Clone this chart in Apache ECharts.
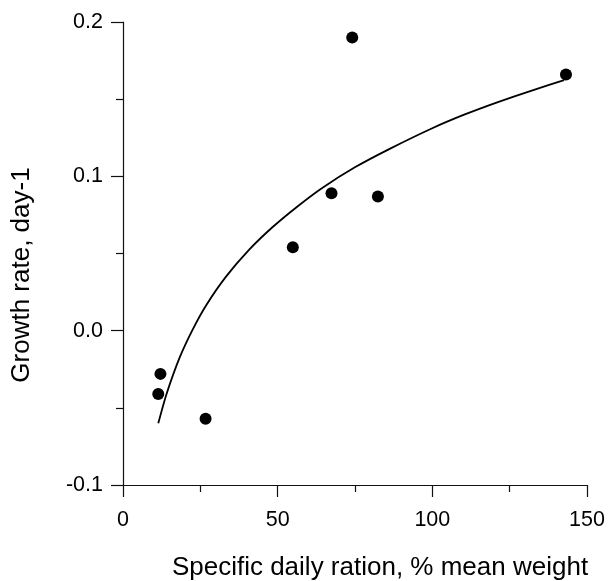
<!DOCTYPE html>
<html>
<head>
<meta charset="utf-8">
<script src="https://cdn.jsdelivr.net/npm/echarts@6/dist/echarts.min.js"></script>
<style>html,body{margin:0;padding:0;background:#fff}#c{width:610px;height:581px}</style>
</head>
<body>
<div id="c"></div>
<script>
var scatterX = [11.4, 12.1, 26.7, 54.9, 67.4, 74.1, 82.4, 143.2];
var scatterY = [-0.041, -0.028, -0.057, 0.054, 0.089, 0.190, 0.087, 0.166];
var curveX = [11.4, 14.0, 18.3, 22.6, 26.9, 33.3, 40.8, 48.3, 56.4, 64.4, 75.1, 85.9, 99.8, 110.5, 121.2, 131.9, 142.6];
var curveY = [-0.060, -0.0415, -0.0175, 0.001, 0.0165, 0.035, 0.0525, 0.067, 0.0805, 0.0925, 0.106, 0.1175, 0.131, 0.1401, 0.1481, 0.1554, 0.1623];
var xTicks = [0, 50, 100, 150];
var yTicks = [-0.1, 0.0, 0.1, 0.2];
var xTitle = 'Specific daily ration, % mean weight';
var yTitle = 'Growth rate, day-1';

var FONT = 'Liberation Sans';
var chart = echarts.init(document.getElementById('c'), null, {renderer: 'canvas'});
function zip(a, b) { return a.map(function (v, i) { return [v, b[i]]; }); }
var axisCommon = {
  axisLine: {show: true, onZero: false, lineStyle: {color: '#111', width: 1.2}},
  axisTick: {show: true, inside: false, length: 12, lineStyle: {color: '#111', width: 1.2}},
  minorTick: {show: true, splitNumber: 2, length: 7, lineStyle: {color: '#111', width: 1.2}},
  splitLine: {show: false},
  minorSplitLine: {show: false}
};
chart.setOption({
  animation: false,
  backgroundColor: '#fff',
  grid: {left: 123, right: 23, top: 22, bottom: 96, containLabel: false, outerBoundsMode: 'none'},
  xAxis: Object.assign({
    type: 'value', min: xTicks[0], max: xTicks[xTicks.length - 1], interval: 50,
    name: xTitle, nameLocation: 'middle', nameGap: 70,
    nameTextStyle: {fontFamily: FONT, fontSize: 26, color: '#000', padding: [0, 0, 0, 50]},
    axisLabel: {fontFamily: FONT, fontSize: 21.5, color: '#000', margin: 24}
  }, axisCommon),
  yAxis: Object.assign({
    type: 'value', min: yTicks[0], max: yTicks[yTicks.length - 1], interval: 0.1,
    name: yTitle, nameLocation: 'middle', nameGap: 88, nameRotate: 90,
    nameTextStyle: {fontFamily: FONT, fontSize: 26, color: '#000', padding: [0, 43, 0, 0]},
    axisLabel: {fontFamily: FONT, fontSize: 21.5, color: '#000', margin: 20,
      formatter: function (v) { return v.toFixed(1); }}
  }, axisCommon),
  series: [
    {type: 'line', data: zip(curveX, curveY), showSymbol: false, smooth: 0.2,
     lineStyle: {color: '#000', width: 1.8}, silent: true},
    {type: 'scatter', data: zip(scatterX, scatterY), symbol: 'circle', symbolSize: 12,
     itemStyle: {color: '#000', opacity: 1}}
  ]
});
</script>
</body>
</html>
